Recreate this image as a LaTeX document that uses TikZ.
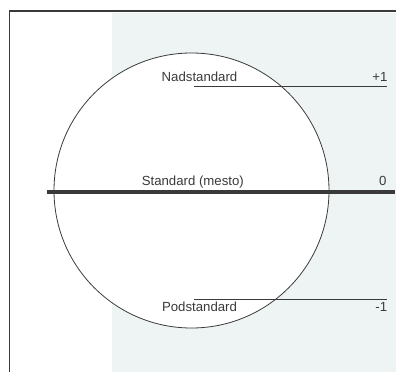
\documentclass[tikz,border=0pt]{standalone}
\usepackage{fontspec}
\setmainfont{Liberation Sans}
\definecolor{paper}{HTML}{EEF4F4}
\definecolor{ink}{HTML}{3A3A3A}

\begin{document}
\begin{tikzpicture}[x=1pt,y=-1pt,
  scale line/.style={draw=ink,line width=0.9pt},
  level label/.style={anchor=base,text=ink,font=\fontsize{13.2}{15}\selectfont,inner sep=0pt}]
\useasboundingbox (0,0) rectangle (396,372);
% background and frame
\fill[paper] (112,13) rectangle (396,372);
\draw[ink,line width=1.4pt] (9.5,372) -- (9.5,11) -- (396,11);
% circle
\filldraw[fill=white,draw=ink,line width=0.8pt] (191.5,190.5) circle (137.5);
% +1
\draw[scale line] (194,86) coordinate (nad_a) -- (387,86) coordinate (nad_b);
\node[level label] (nad) at (199.5,81.7) {Nadstandard};
\node[level label,anchor=base east] (plus) at (387.7,81.7) {+1};
% 0
\draw[ink,line width=3.2pt] (47,192) coordinate (std_a) -- (395,192) coordinate (std_b);
\node[level label] (std) at (192.8,185.7) {Standard (mesto)};
\node[level label,anchor=base east] (zero) at (386.7,185.7) {0};
% -1
\draw[scale line] (194,299) coordinate (pod_a) -- (387,299) coordinate (pod_b);
\node[level label] (pod) at (199.5,311.7) {Podstandard};
\node[level label,anchor=base east] (minus) at (387.3,311.7) {-1};
\end{tikzpicture}
\end{document}
